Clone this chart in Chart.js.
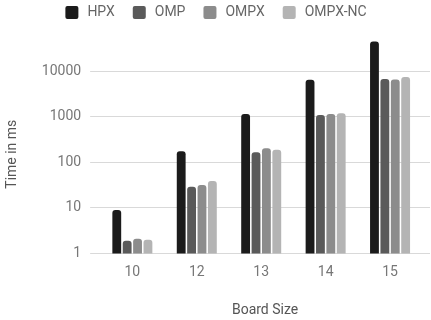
<!DOCTYPE html>
<html>
<head>
<meta charset="utf-8">
<script src="https://cdn.jsdelivr.net/npm/chart.js@4"></script>
<style>
  html, body { margin: 0; padding: 0; background: #fff; }
  #wrap { width: 431px; height: 320px; }
</style>
</head>
<body>
<div id="wrap"><canvas id="c" width="431" height="320"></canvas></div>
<script>
// N-Queens run times per board size (ms, log scale)
const boardSizes = ['10', '12', '13', '14', '15'];
const hpx     = [9, 175, 1150, 6500, 45000];
const omp     = [1.9, 29, 166, 1090, 6770];
const ompx    = [2.1, 32, 203, 1150, 6600];
const ompxNc  = [2.0, 39, 189, 1200, 7500];
const yTicks  = [1, 10, 100, 1000, 10000];

const seriesNames  = ['HPX', 'OMP', 'OMPX', 'OMPX-NC'];
const seriesValues = [hpx, omp, ompx, ompxNc];
const seriesColors = ['#1b1b1b', '#5a5a5a', '#8c8c8c', '#b4b4b4'];

Chart.defaults.font.family = 'Roboto, "Noto Sans", sans-serif';
Chart.defaults.font.size = 14;

// reserve space under the legend before the plot starts
const legendGap = {
  id: 'legendGap',
  beforeInit(chart) {
    const origFit = chart.legend.fit;
    chart.legend.fit = function () {
      origFit.call(this);
      this.height = 67;
    };
  }
};

new Chart(document.getElementById('c'), {
  type: 'bar',
  data: {
    labels: boardSizes,
    datasets: seriesNames.map((name, i) => ({
      label: name,
      data: seriesValues[i],
      backgroundColor: seriesColors[i],
      borderRadius: 3,
      borderSkipped: 'start',
      barPercentage: 0.85,
      categoryPercentage: 0.645,
      clip: false
    }))
  },
  options: {
    responsive: false,
    animation: false,
    layout: { padding: { top: -12, left: 0, right: 1, bottom: 0 } },
    plugins: {
      tooltip: { enabled: false },
      legend: {
        position: 'top',
        labels: {
          boxWidth: 17,
          boxHeight: 17,
          padding: 16,
          color: '#666',
          font: { size: 14 },
          useBorderRadius: true,
          borderRadius: 4,
          generateLabels(chart) {
            const items = Chart.defaults.plugins.legend.labels.generateLabels(chart);
            items.forEach(it => { it.lineWidth = 4; it.strokeStyle = '#ffffff'; });
            return items;
          }
        }
      }
    },
    scales: {
      x: {
        grid: { display: false, drawTicks: false },
        border: { display: false },
        ticks: { color: '#777', padding: 11, font: { size: 14 } },
        title: {
          display: true, text: 'Board Size', color: '#555',
          font: { size: 14 }, padding: { top: 10, bottom: 1 }
        },
        afterBuildTicks(scale) {
          // stretch the value range a little so the grid runs past the last group
          scale._valueRange = boardSizes.length + 0.12;
        }
      },
      y: {
        type: 'logarithmic',
        min: 1,
        max: 22800,
        border: { display: false },
        grid: { color: '#d9d9d9', lineWidth: 1, tickLength: 10 },
        ticks: {
          color: '#777', padding: 9, font: { size: 14 },
          callback: v => String(v)
        },
        afterBuildTicks(scale) {
          scale.ticks = yTicks.map(v => ({ value: v }));
        },
        title: {
          display: true, text: 'Time in ms', color: '#555',
          font: { size: 14 }, padding: { top: 4, bottom: 12 }
        }
      }
    }
  },
  plugins: [legendGap]
});
</script>
</body>
</html>
